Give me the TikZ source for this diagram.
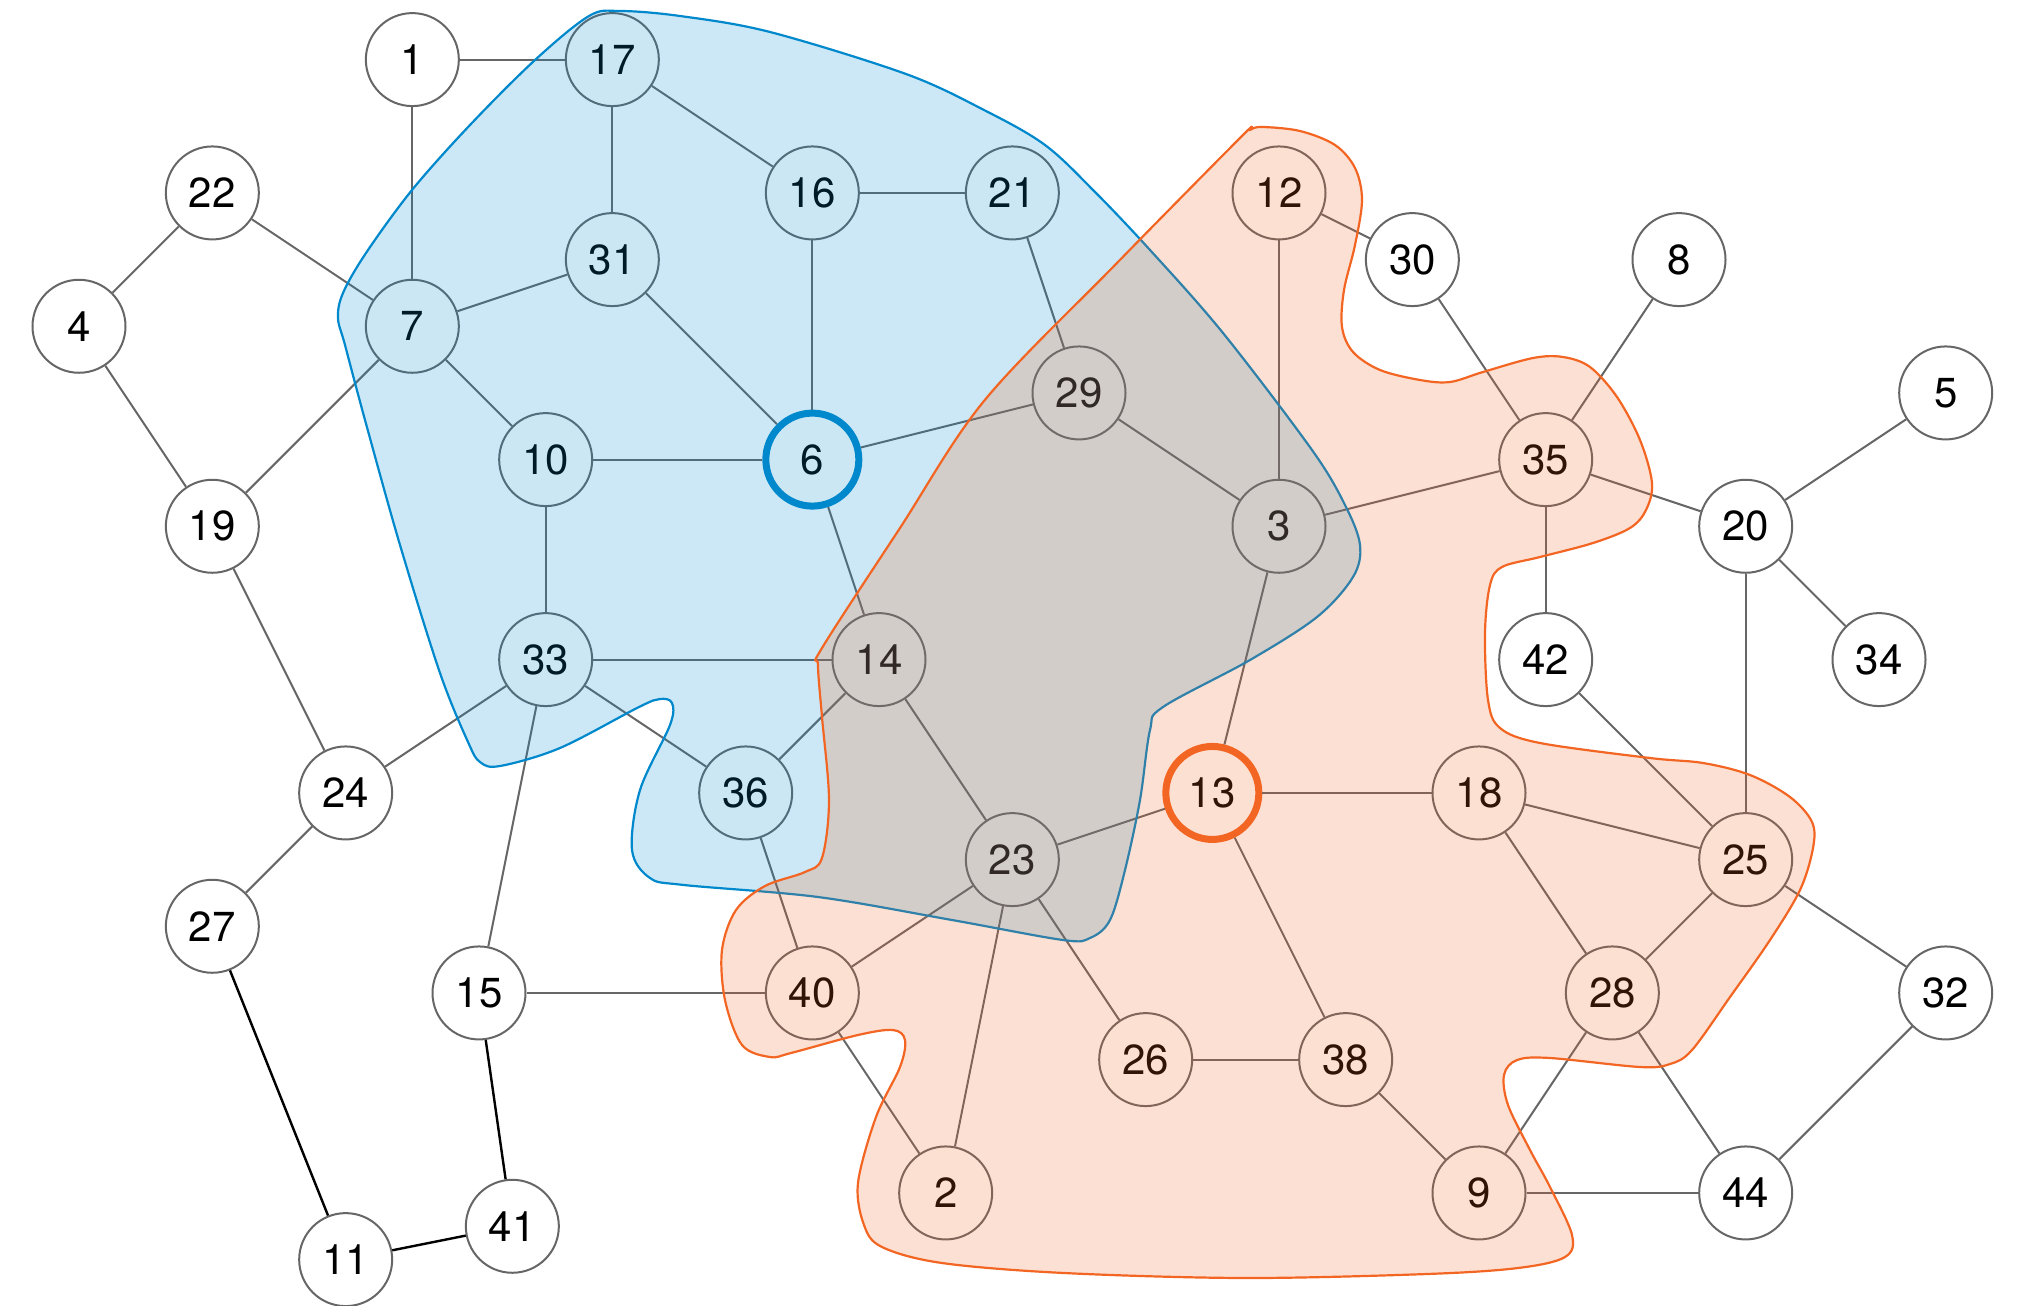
\documentclass[tikz,border=0pt]{standalone}
\usepackage{fontspec}
\setmainfont{TeX Gyre Heros}
\definecolor{bluec}{HTML}{0088CC}
\definecolor{orangec}{HTML}{F26522}
\definecolor{edgec}{HTML}{666666}
\begin{document}
\begin{tikzpicture}[x=0.5pt,y=-0.5pt,
  vtx/.style={circle, draw=edgec, line width=1pt, fill=white, minimum size=46.5pt, inner sep=0pt, font=\fontsize{21}{25}\selectfont},
  edge/.style={draw=edgec, line width=1pt},
  bedge/.style={draw=black, line width=1.2pt},
  hiblue/.style={draw=bluec, line width=3.5pt},
  hiorange/.style={draw=orangec, line width=3.5pt},
  blobblue/.style={draw=bluec, fill=bluec, fill opacity=0.2, line width=1.1pt},
  bloborange/.style={draw=orangec, fill=orangec, fill opacity=0.2, line width=1.1pt},
]
\useasboundingbox (0,0) rectangle (2030,1306);
% nodes
\foreach \n/\k/\j in {1/5/0, 17/8/0, 22/2/2, 16/11/2, 21/14/2, 12/18/2, 30/20/3, 8/24/3,
  4/0/4, 7/5/4, 31/8/3, 29/15/5, 5/28/5, 10/7/6, 35/22/6, 19/2/7, 3/18/7,
  20/25/7, 33/7/9, 14/12/9, 42/22/9, 34/27/9, 24/4/11, 36/10/11, 18/21/11,
  23/14/12, 25/25/12, 27/2/13, 15/6/14, 40/11/14, 28/23/14, 32/28/14, 26/16/15,
  38/19/15, 2/13/17, 9/21/17, 44/25/17, 41/6.5/17.5, 11/4/18}
  \node[vtx] (n\n) at ({79+66.667*\k},{59.6+66.667*\j}) {\n};
\node[vtx,hiblue] (n6) at ({79+66.667*11},{59.6+66.667*6}) {6};
\node[vtx,hiorange] (n13) at ({79+66.667*17},{59.6+66.667*11}) {13};
% edges
\foreach \a/\b in {1/17, 1/7, 17/16, 17/31, 16/21, 16/6, 31/7, 31/6, 22/7, 22/4, 4/19,
  7/19, 7/10, 10/6, 10/33, 6/29, 6/14, 21/29, 29/3, 12/3, 12/30, 30/35, 8/35, 3/35,
  35/20, 35/42, 20/5, 20/34, 20/25, 3/13, 33/14, 33/24, 33/36, 33/15, 14/36, 14/23,
  19/24, 24/27, 36/40, 23/13, 23/40, 23/2, 23/26, 13/18, 13/38, 18/25, 18/28, 42/25,
  25/28, 25/32, 28/9, 28/44, 32/44, 9/44, 38/9, 26/38, 40/15, 40/2}
  \draw[edge] (n\a) -- (n\b);
\foreach \a/\b in {27/11, 15/41, 11/41}
  \draw[bedge] (n\a) -- (n\b);
% blue blob
\draw[blobblue] plot[smooth cycle, tension=0.55] coordinates {
  (620,11) (680,16) (770,32) (906,74) (984,110) (1045,145) (1095,192) (1150,250) (1223,333)
  (1312,450) (1345,505) (1360,545) (1353,577) (1317,617) (1250,660) (1163,707)
  (1150,730) (1140,800) (1125,870) (1110,920) (1090,938) (1063,940) (952,920)
  (818,897) (684,885) (650,878) (632,850) (640,790) (670,725) (672,703) (660,699)
  (639,707) (560,748) (500,766) (480,762) (468,742) (440,673) (400,545) (365,420)
  (345,345) (338,318) (343,293) (366,253) (412,190) (470,125) (535,60) (589,16)};
% orange blob
\draw[bloborange] plot[smooth cycle, tension=0.55] coordinates {
  (1262,127) (1300,131) (1335,145) (1355,168) (1362,200) (1355,245) (1344,290)
  (1342,327) (1353,352) (1380,370) (1420,380) (1450,382) (1483,372) (1533,358)
  (1563,357) (1590,367) (1617,397) (1640,440) (1652,483) (1646,510) (1630,528)
  (1593,543) (1540,557) (1502,567) (1490,585) (1485,633) (1488,700) (1500,728)
  (1540,743) (1650,758) (1703,763) (1750,775) (1790,797) (1812,822) (1813,848)
  (1800,890) (1770,940) (1730,997) (1692,1050) (1670,1064) (1640,1067) (1550,1058)
  (1517,1060) (1504,1075) (1508,1105) (1530,1150) (1550,1187) (1572,1235)
  (1565,1257) (1518,1268) (1427,1274) (1245,1278) (1064,1273) (942,1263)
  (882,1247) (864,1225) (858,1183) (876,1117) (900,1067) (905,1040) (893,1030)
  (858,1035) (791,1053) (770,1057) (742,1045) (725,1000) (722,950) (736,910)
  (765,886) (805,872) (822,858) (829,800) (822,717) (818,665) (822,648) (900,528)
  (984,401) (1115,265) (1240,138) (1250,130)};
\end{tikzpicture}
\end{document}
